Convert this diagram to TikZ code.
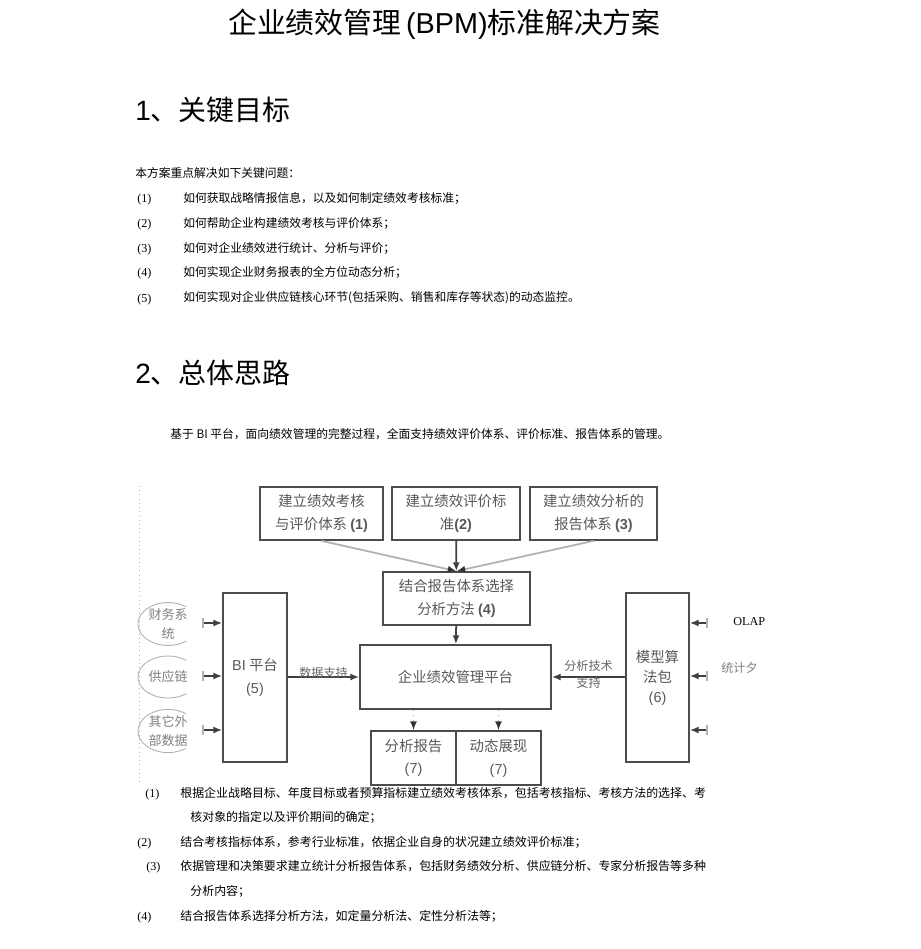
\documentclass[tikz,border=0pt]{standalone}
\usepackage{fontspec}
\setmainfont{Liberation Serif}
\newfontfamily\cjk{Noto Sans CJK SC}
\newfontfamily\lat{Liberation Sans}
\usetikzlibrary{positioning,arrows.meta,shapes.geometric}

\newcommand{\bpmtitle}{\cjk\fontsize{16.4pt}{18pt}\selectfont}
\newcommand{\bpmhead}{\cjk\fontsize{15.9pt}{18pt}\selectfont}
\newcommand{\bpmbody}{\cjk\fontsize{6.7pt}{8pt}\selectfont}
\newcommand{\bpmnote}{\cjk\fontsize{6.8pt}{8pt}\selectfont}
\newcommand{\bpmdiag}{\cjk\fontsize{8.2pt}{13pt}\selectfont}
\newcommand{\bpmsmall}{\cjk\fontsize{6.9pt}{10pt}\selectfont}
\newcommand{\bpmnum}{\fontsize{6.9pt}{8pt}\selectfont}

\tikzset{
  txt/.style={anchor=west, inner sep=0pt},
  num/.style={anchor=west, inner sep=0pt, font=\bpmnum, yshift=-1pt},
  box/.style={draw=black!70, line width=1pt, inner sep=0pt, align=center,
    font=\bpmdiag, text=black!65},
  src/.style={ellipse, draw=black!30, line width=0.5pt, inner sep=0pt,
    minimum width=1.2cm, minimum height=0.84cm, align=center,
    font=\cjk\fontsize{7.4pt}{10.5pt}\selectfont, text=black!50},
  arr/.style={-{Latex[length=5pt,width=4pt]}, draw=black!75, line width=1pt},
  faint/.style={-{Latex[length=5pt,width=4pt,color=black!80]}, draw=black!30, line width=1pt},
  dn/.style={-{Latex[length=5pt,width=4pt,color=black!80]}, draw=black!35, line width=0.8pt, dotted},
  feed/.style={{Bar[width=5.5pt,color=black!30]}-{Latex[length=5pt,width=4pt]}, draw=black!75, line width=0.9pt}
}

\begin{document}
\begin{tikzpicture}[x=0.02cm, y=-0.02cm]
    % Page
    \fill[white] (0,0) rectangle (920,949);
    \useasboundingbox (0,0) rectangle (920,949);

    % Title and section 1
    \node[txt, font=\bpmtitle] (title) at (228,24) {企业绩效管理\,{\lat (BPM)}标准解决方案};
    \node[txt, font=\bpmhead] (sec1) at (135,110) {{\lat 1}、关键目标};
    \node[txt, font=\bpmbody] (intro) at (135,173) {本方案重点解决如下关键问题：};

    \node[num] (n1) at (137,198) {(1)};
    \node[num] (n2) at (137,223) {(2)};
    \node[num] (n3) at (137,248) {(3)};
    \node[num] (n4) at (137,272) {(4)};
    \node[num] (n5) at (137,298) {(5)};
    \node[txt, font=\bpmbody] (q1) at (183,198) {如何获取战略情报信息，以及如何制定绩效考核标准；};
    \node[txt, font=\bpmbody] (q2) at (183,223) {如何帮助企业构建绩效考核与评价体系；};
    \node[txt, font=\bpmbody] (q3) at (183,248) {如何对企业绩效进行统计、分析与评价；};
    \node[txt, font=\bpmbody] (q4) at (183,272) {如何实现企业财务报表的全方位动态分析；};
    \node[txt, font=\bpmbody] (q5) at (183,298) {如何实现对企业供应链核心环节(包括采购、销售和库存等状态)的动态监控。};

    % Section 2
    \node[txt, font=\bpmhead] (sec2) at (135,373) {{\lat 2}、总体思路};
    \node[txt, font=\bpmbody] (idea) at (170,434) {基于 BI 平台，面向绩效管理的完整过程，全面支持绩效评价体系、评价标准、报告体系的管理。};

    % Diagram frame
    \draw[dotted, black!30] (139,486) -- (139,785);

    % Top boxes
    \node[box, minimum width=2.46cm, minimum height=1.06cm] (goal1) at (321.5,513.5) {建立绩效考核\\与评价体系 {\lat\bfseries (1)}};
    \node[box, minimum width=2.56cm, minimum height=1.06cm] (goal2) at (456,513.5) {建立绩效评价标\\准{\lat\bfseries (2)}};
    \node[box, minimum width=2.54cm, minimum height=1.06cm] (goal3) at (593.5,513.5) {建立绩效分析的\\报告体系 {\lat\bfseries (3)}};
    \node[box, minimum width=2.94cm, minimum height=1.06cm] (method) at (456.5,598.5) {结合报告体系选择\\分析方法 {\lat\bfseries (4)}};

    % Platforms
    \node[box, minimum width=1.28cm, minimum height=3.38cm] (bi) at (255,677.5) {{\lat BI} 平台\\{\lat (5)}};
    \node[box, minimum width=3.82cm, minimum height=1.28cm] (main) at (455.5,677) {企业绩效管理平台};
    \node[box, minimum width=1.26cm, minimum height=3.38cm, font=\cjk\fontsize{8.2pt}{11.4pt}\selectfont] (model) at (657.5,677.5) {模型算\\法包\\{\lat (6)}};

    % Outputs
    \node[box, minimum width=1.7cm, minimum height=1.08cm] (report) at (413.5,758) {分析报告\\{\lat (7)}};
    \node[box, minimum width=1.7cm, minimum height=1.08cm] (show) at (498.5,758) {动态展现\\{\lat (7)}};

    % Data sources (cut off on the right)
    \begin{scope}
        \clip (130,595) rectangle (186,760);
        \node[src] (fin) at (168,624) {财务系\\统};
        \node[src] (supply) at (168,677) {供应链};
        \node[src] (other) at (168,731) {其它外\\部数据};
    \end{scope}

    % Inputs to the BI platform
    \coordinate (inA) at (202,623);
    \coordinate (inB) at (202,676);
    \coordinate (inC) at (202,730);
    \draw[feed] (inA) -- (bi.west |- inA);
    \draw[feed] (inB) -- (bi.west |- inB);
    \draw[feed] (inC) -- (bi.west |- inC);

    % Inputs to the model package
    \coordinate (outA) at (708,623);
    \coordinate (outB) at (708,676);
    \coordinate (outC) at (708,730);
    \draw[feed] (outA) -- (model.east |- outA);
    \draw[feed] (outB) -- (model.east |- outB);
    \draw[feed] (outC) -- (model.east |- outC);
    \node[txt, font=\bpmnum] (olap) at (733,622) {OLAP};
    \node[txt, font=\bpmsmall, text=black!50] (stat) at (721,668) {统计夕};

    % Flow
    \draw[faint] (goal1.south) -- (method.north);
    \draw[faint] (goal3.south) -- (method.north);
    \draw[arr] (goal2) -- (method);
    \draw[arr] (method) -- (main);
    \draw[arr] (bi.east |- main) -- node[yshift=2.5pt, font=\bpmsmall, text=black!60] {数据支持} (main);
    \draw[arr] (model.west |- main) -- node[yshift=1.5pt, font=\cjk\fontsize{6.9pt}{10pt}\selectfont, text=black!60, align=center] {分析技术\\支持} (main);
    \draw[dn] (main.south -| report) -- (report);
    \draw[dn] (main.south -| show) -- (show);

    % Notes
    \node[num] (m1) at (145,793) {(1)};
    \node[txt, font=\bpmnote] (t1) at (180,793) {根据企业战略目标、年度目标或者预算指标建立绩效考核体系，包括考核指标、考核方法的选择、考};
    \node[txt, font=\bpmnote] (t1b) at (190,817) {核对象的指定以及评价期间的确定；};
    \node[num] (m2) at (137,842) {(2)};
    \node[txt, font=\bpmnote] (t2) at (180,842) {结合考核指标体系，参考行业标准，依据企业自身的状况建立绩效评价标准；};
    \node[num] (m3) at (146,866) {(3)};
    \node[txt, font=\bpmnote] (t3) at (180,866) {依据管理和决策要求建立统计分析报告体系，包括财务绩效分析、供应链分析、专家分析报告等多种};
    \node[txt, font=\bpmnote] (t3b) at (190,891) {分析内容；};
    \node[num] (m4) at (137,916) {(4)};
    \node[txt, font=\bpmnote] (t4) at (180,916) {结合报告体系选择分析方法，如定量分析法、定性分析法等；};
\end{tikzpicture}
\end{document}
